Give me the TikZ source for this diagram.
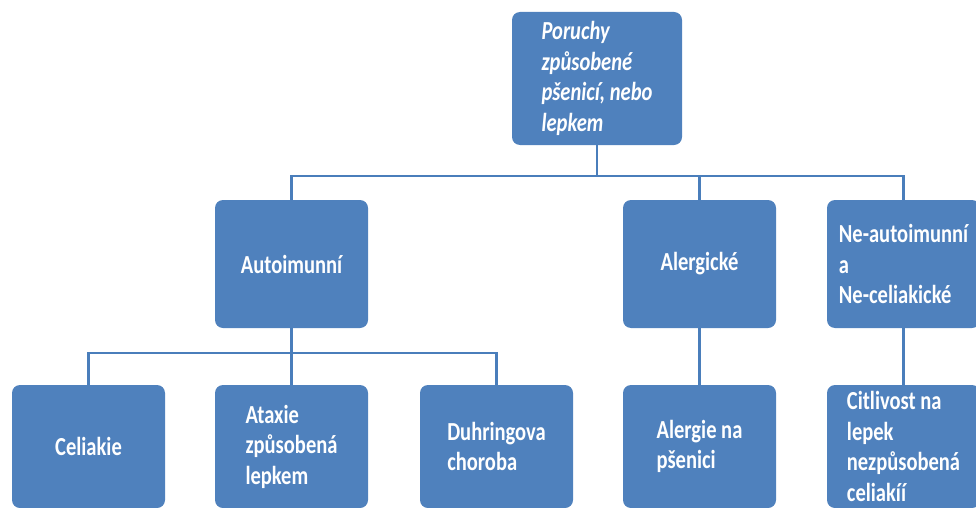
\documentclass[tikz,border=0pt]{standalone}
\usepackage{fontspec}
\setmainfont{Carlito}[FakeStretch=0.79]
\definecolor{boxblue}{HTML}{4F81BD}
\definecolor{lineblue}{HTML}{4A7EBB}
\begin{document}
\begin{tikzpicture}[x=1pt,y=-1pt,
  box/.style={rectangle, fill=boxblue, rounded corners=8pt, text=white,
    font=\bfseries\fontsize{26}{30.5}\selectfont, align=left, inner sep=0pt},
  lvl2/.style={box, minimum width=153pt, minimum height=128pt},
  lvl3/.style={box, minimum width=153pt, minimum height=123pt},
  conn/.style={draw=lineblue, line width=2.8pt}]
\useasboundingbox (0,0) rectangle (976,508);
\clip (0,0) rectangle (976,508);
% root
\node[box, minimum width=170pt, minimum height=133pt] (root) at (597,78.5)
  {\itshape Poruchy\\\itshape způsobené\\\itshape pšenicí, nebo\\\itshape lepkem};
% level 2
\node[lvl2] (auto) at (291.5,264) {Autoimunní};
\node[lvl2] (alerg) at (699.5,264) {Alergické};
\node[lvl2] (neauto) at (903.5,264) {Ne-autoimunní\\a\\Ne-celiakické};
% level 3
\node[lvl3] (celi) at (88.5,446.5) {Celiakie};
\node[lvl3] (ataxie) at (291.5,446.5) {Ataxie\\způsobená\\lepkem};
\node[lvl3] (duhr) at (496.5,446.5) {Duhringova\\choroba};
\node[lvl3] (alergie) at (699.5,446.5) {Alergie na\\pšenici};
\node[lvl3] (citl) at (903.5,446.5) {Citlivost na\\lepek\\nezpůsobená\\celiakíí};
% connectors
\coordinate (bus1) at (597,176);
\coordinate (bus2) at (291.5,353);
\draw[conn] (root.south) -- (bus1) -| (auto.north);
\draw[conn] (bus1) -| (alerg.north);
\draw[conn] (bus1) -| (neauto.north);
\draw[conn] (auto.south) -- (bus2) -| (celi.north);
\draw[conn] (bus2) -- (ataxie.north);
\draw[conn] (bus2) -| (duhr.north);
\draw[conn] (alerg.south) -- (alergie.north);
\draw[conn] (neauto.south) -- (citl.north);
\end{tikzpicture}
\end{document}
